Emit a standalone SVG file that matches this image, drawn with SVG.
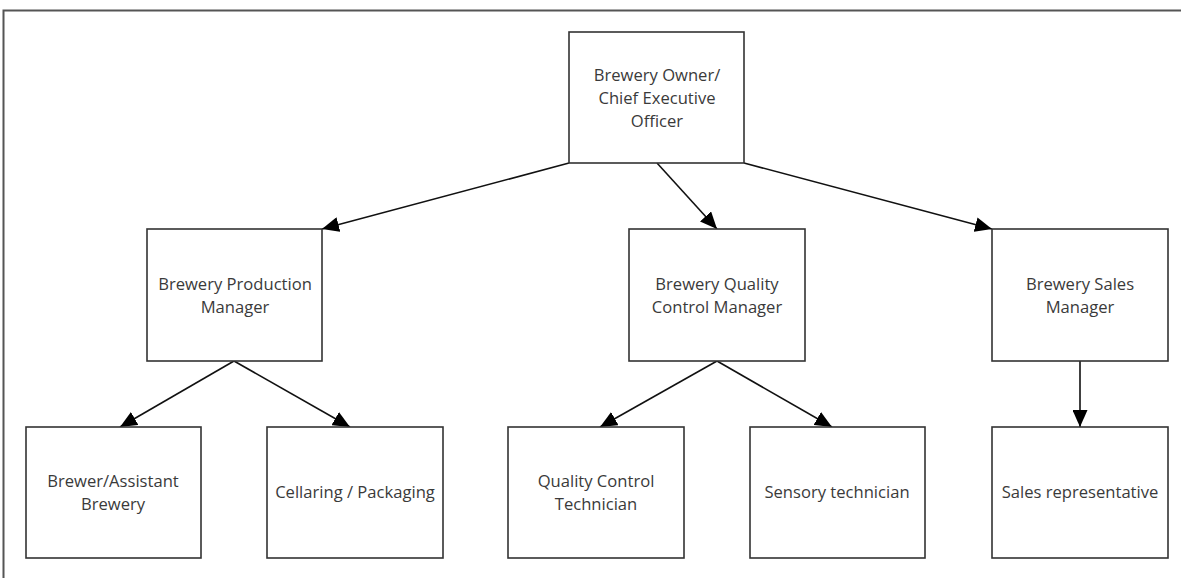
<svg xmlns="http://www.w3.org/2000/svg" width="1181" height="578" viewBox="0 0 1181 578">
<defs>
<style>
.box{fill:#fff;stroke:#333;stroke-width:1.6}
.lbl{font-family:"Open Sans","Noto Sans",sans-serif;font-size:16.6px;fill:#3a3a3a;text-anchor:middle}
.edge{stroke:#111;stroke-width:1.6;fill:none;marker-end:url(#ah)}
</style>
<marker id="ah" markerUnits="userSpaceOnUse" markerWidth="17" markerHeight="15" viewBox="0 0 17 15" refX="17" refY="7.5" orient="auto">
<path d="M0,0 L17,7.5 L0,15 Z" fill="#000"/>
</marker>
</defs>
<rect width="1181" height="578" fill="#fff"/>
<path d="M3.5,578 V10.5 H1181" fill="none" stroke="#555" stroke-width="2"/>
<g id="connectors">
<line class="edge" x1="569" y1="163" x2="322" y2="229"/>
<line class="edge" x1="657" y1="163" x2="717" y2="229"/>
<line class="edge" x1="744" y1="163" x2="992" y2="229"/>
<line class="edge" x1="234" y1="361" x2="120" y2="427"/>
<line class="edge" x1="234" y1="361" x2="350" y2="427"/>
<line class="edge" x1="717" y1="361" x2="600" y2="427"/>
<line class="edge" x1="717" y1="361" x2="832" y2="427"/>
<line class="edge" x1="1080" y1="361" x2="1080" y2="427"/>
</g>
<g id="ceo"><rect class="box" x="569" y="32" width="175" height="131"/>
<text class="lbl" x="657" y="81">Brewery Owner/</text>
<text class="lbl" x="657" y="104">Chief Executive</text>
<text class="lbl" x="657" y="127">Officer</text></g>
<g id="production"><rect class="box" x="147" y="229" width="175" height="132"/>
<text class="lbl" x="235" y="290">Brewery Production</text>
<text class="lbl" x="235" y="313">Manager</text></g>
<g id="qc"><rect class="box" x="629" y="229" width="176" height="132"/>
<text class="lbl" x="717" y="290">Brewery Quality</text>
<text class="lbl" x="717" y="313">Control Manager</text></g>
<g id="sales"><rect class="box" x="992" y="229" width="176" height="132"/>
<text class="lbl" x="1080" y="290">Brewery Sales</text>
<text class="lbl" x="1080" y="313">Manager</text></g>
<g id="brewer"><rect class="box" x="26" y="427" width="175" height="131"/>
<text class="lbl" x="113" y="487">Brewer/Assistant</text>
<text class="lbl" x="113" y="510">Brewery</text></g>
<g id="cellaring"><rect class="box" x="267" y="427" width="176" height="131"/>
<text class="lbl" x="355" y="498">Cellaring / Packaging</text></g>
<g id="qctech"><rect class="box" x="508" y="427" width="176" height="131"/>
<text class="lbl" x="596" y="487">Quality Control</text>
<text class="lbl" x="596" y="510">Technician</text></g>
<g id="sensory"><rect class="box" x="750" y="427" width="175" height="131"/>
<text class="lbl" x="837" y="498">Sensory technician</text></g>
<g id="salesrep"><rect class="box" x="992" y="427" width="176" height="131"/>
<text class="lbl" x="1080" y="498">Sales representative</text></g>
</svg>
